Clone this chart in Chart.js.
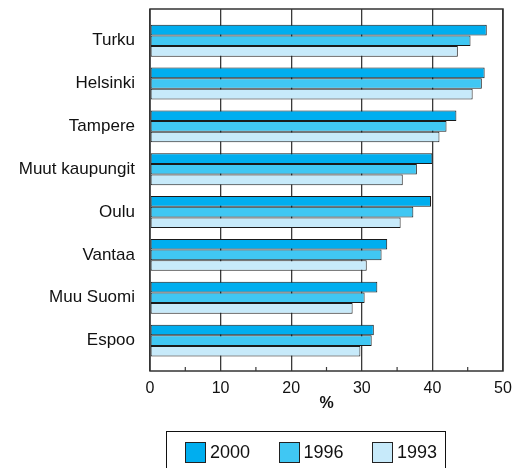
<!DOCTYPE html>
<html>
<head>
<meta charset="utf-8">
<script src="https://cdn.jsdelivr.net/npm/chart.js@4/dist/chart.umd.min.js"></script>
<style>
  html, body { margin: 0; padding: 0; background: #fff; }
  #wrap { position: relative; width: 522px; height: 468px; overflow: hidden; }
  #legend { position: absolute; left: 166px; top: 431px; width: 280px; height: 60px;
            border: 1px solid #111; box-sizing: border-box; font-family: "Liberation Sans", Arial, sans-serif; }
  .item { position: absolute; top: 10px; height: 21px; display: flex; align-items: center; }
  .sw { width: 21px; height: 21px; box-sizing: border-box; border: 1px solid #222; margin-right: 4px; }
  .lbl { font-size: 18px; color: #111; }
</style>
</head>
<body>
<div id="wrap">
  <canvas id="c" width="522" height="468"></canvas>
  <div id="legend"></div>
</div>
<script>
const categories = ["Turku", "Helsinki", "Tampere", "Muut kaupungit", "Oulu", "Vantaa", "Muu Suomi", "Espoo"];
const seriesNames = ["2000", "1996", "1993"];
const values2000 = [47.7, 47.4, 43.4, 40.0, 39.8, 33.6, 32.2, 31.7];
const values1996 = [45.4, 47.0, 42.0, 37.8, 37.3, 32.8, 30.4, 31.4];
const values1993 = [43.6, 45.7, 41.0, 35.8, 35.5, 30.7, 28.7, 29.8];
const xTicks = [0, 10, 20, 30, 40, 50];
const xMinorTicks = [5, 15, 25, 35, 45];
const colors = ["#00AEEF", "#40C7F3", "#C7EAFA"];

const allSeries = [values2000, values1996, values1993];
const datasets = allSeries.map((vals, s) => ({
  label: seriesNames[s],
  data: vals.map((v, i) => ({ x: v, y: i })),
  backgroundColor: colors[s],
  borderColor: "#1a1a1a",
  borderWidth: 1,
  borderSkipped: false,
  categoryPercentage: 0.745,
  barPercentage: 1.0
}));

const frameAndMinor = {
  id: "frameAndMinor",
  afterDatasetsDraw(chart) {
    const { ctx, chartArea: a, scales } = chart;
    ctx.save();
    ctx.strokeStyle = "#3a3a3a";
    ctx.lineWidth = 1.2;
    xMinorTicks.forEach(v => {
      const px = scales.x.getPixelForValue(v);
      ctx.beginPath();
      ctx.moveTo(px, a.bottom);
      ctx.lineTo(px, a.bottom - 4);
      ctx.stroke();
    });
    ctx.strokeStyle = "#333";
    ctx.lineWidth = 1.5;
    ctx.strokeRect(a.left, a.top, a.right - a.left, a.bottom - a.top);
    ctx.restore();
  }
};

const chart = new Chart(document.getElementById("c"), {
  type: "bar",
  data: { datasets },
  options: {
    indexAxis: "y",
    responsive: false,
    animation: false,
    layout: { padding: { top: 9, right: 19, bottom: 55, left: 0 } },
    plugins: { legend: { display: false }, tooltip: { enabled: false } },
    scales: {
      x: {
        type: "linear",
        min: 0, max: 50,
        afterBuildTicks(scale) { scale.ticks = xTicks.map(v => ({ value: v })); },
        afterFit(scale) { scale.height = 42; scale.paddingLeft = 0; scale.paddingRight = 0; },
        grid: { color: "#3a3a3a", lineWidth: 1.3, drawTicks: false },
        border: { display: false },
        ticks: { padding: 8, color: "#111", font: { family: "Liberation Sans", size: 16 } },
        title: { display: true, text: "%", color: "#111", padding: { top: 0, bottom: 0 },
                 font: { family: "Liberation Sans", size: 16, weight: "bold" } }
      },
      y: {
        type: "linear",
        reverse: true,
        offset: false,
        min: -0.74, max: 7.71,
        afterBuildTicks(scale) { scale.ticks = categories.map((c, i) => ({ value: i })); },
        afterFit(scale) { scale.width = 150; scale.paddingTop = 0; scale.paddingBottom = 0; },
        grid: { display: false, drawTicks: false, offset: false },
        border: { display: false },
        ticks: {
          autoSkip: false,
          padding: 15,
          color: "#111",
          font: { family: "Liberation Sans", size: 17 },
          callback: (v) => categories[v] !== undefined ? categories[v] : ""
        }
      }
    }
  },
  plugins: [frameAndMinor]
});

const legend = document.getElementById("legend");
chart.data.datasets.forEach((ds, i) => {
  const item = document.createElement("div");
  item.className = "item";
  item.style.left = (18 + i * 93.5) + "px";
  const sw = document.createElement("span");
  sw.className = "sw";
  sw.style.background = ds.backgroundColor;
  const lbl = document.createElement("span");
  lbl.className = "lbl";
  lbl.textContent = ds.label;
  item.appendChild(sw);
  item.appendChild(lbl);
  legend.appendChild(item);
});
</script>
</body>
</html>
